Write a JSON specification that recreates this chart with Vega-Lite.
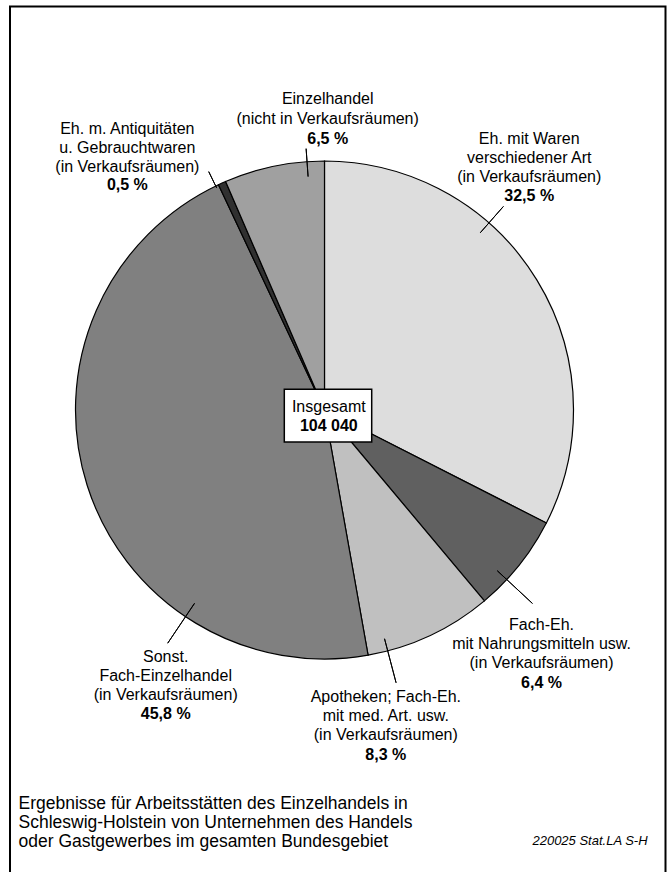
{
  "$schema": "https://vega.github.io/schema/vega-lite/v6.json",
  "width": 613,
  "height": 760,
  "autosize": "none",
  "padding": {"left": 18, "top": 30, "right": 37, "bottom": 82},
  "background": "white",
  "config": {"view": {"stroke": null}, "font": "Liberation Sans"},
  "title": {
    "text": "220025 Stat.LA S-H",
    "orient": "bottom",
    "anchor": "end",
    "frame": "group",
    "font": "Liberation Sans",
    "fontSize": 13,
    "fontStyle": "italic",
    "fontWeight": "normal",
    "color": "black",
    "offset": -56,
    "dx": 16.6
  },
  "data": {
    "values": [
      {"order": 1, "name": "Eh. mit Waren|verschiedener Art|(in Verkaufsräumen)", "share": 32.5},
      {"order": 2, "name": "Fach-Eh.|mit Nahrungsmitteln usw.|(in Verkaufsräumen)", "share": 6.4},
      {"order": 3, "name": "Apotheken; Fach-Eh.|mit med. Art. usw.|(in Verkaufsräumen)", "share": 8.3},
      {"order": 4, "name": "Sonst.|Fach-Einzelhandel|(in Verkaufsräumen)", "share": 45.8},
      {"order": 5, "name": "Eh. m. Antiquitäten|u. Gebrauchtwaren|(in Verkaufsräumen)", "share": 0.5},
      {"order": 6, "name": "Einzelhandel|(nicht in Verkaufsräumen)", "share": 6.5}
    ]
  },
  "layer": [
    {
      "data": {"values": [{}]},
      "mark": {"type": "rect", "filled": false, "stroke": "black", "strokeWidth": 2},
      "encoding": {
        "x": {"value": -8},
        "x2": {"value": 647.5},
        "y": {"value": -23.5},
        "y2": {"value": 860}
      }
    },
    {
      "transform": [
        {"stack": "share", "groupby": [], "sort": [{"field": "order", "order": "ascending"}], "as": ["s0", "s1"]},
        {"calculate": "(datum.s0 + datum.s1) / 2", "as": "mid"},
        {"calculate": "replace(format(datum.share, '.1f'), '.', ',') + ' %'", "as": "pctText"}
      ],
      "layer": [
        {
          "mark": {"type": "arc", "outerRadius": 249, "stroke": "black", "strokeWidth": 1.2},
          "encoding": {
            "theta": {"field": "s0", "type": "quantitative", "scale": {"domain": [0, 100]}},
            "theta2": {"field": "s1"},
            "color": {
              "field": "order",
              "type": "ordinal",
              "scale": {"range": ["#dddddd", "#606060", "#c0c0c0", "#808080", "#303030", "#a0a0a0"]},
              "legend": null
            }
          }
        },
        {
          "transform": [{"filter": "datum.order === 1"}],
          "encoding": {"theta": {"field": "mid", "type": "quantitative", "scale": {"domain": [0, 100]}}},
          "layer": [
            {"mark": {"type": "arc", "radius": 271, "radius2": 236, "thetaOffset": -0.3, "theta2Offset": -0.3, "filled": false, "stroke": "black", "strokeWidth": 1}, "encoding": {"theta2": {"field": "mid"}}},
            {"mark": {"type": "text", "radius": 339.4, "thetaOffset": -0.3735, "lineBreak": "|", "fontSize": 16, "lineHeight": 19, "baseline": "middle", "align": "center", "color": "black"}, "encoding": {"text": {"field": "name", "type": "nominal"}}},
            {"mark": {"type": "text", "radius": 339.4, "thetaOffset": -0.3735, "dy": 57, "fontSize": 16, "baseline": "middle", "align": "center", "color": "black", "fontWeight": "bold"}, "encoding": {"text": {"field": "pctText", "type": "nominal"}}}
          ]
        },
        {
          "transform": [{"filter": "datum.order === 2"}],
          "encoding": {"theta": {"field": "mid", "type": "quantitative", "scale": {"domain": [0, 100]}}},
          "layer": [
            {"mark": {"type": "arc", "radius": 284, "radius2": 236, "thetaOffset": 0.077, "theta2Offset": 0.077, "filled": false, "stroke": "black", "strokeWidth": 1}, "encoding": {"theta2": {"field": "mid"}}},
            {"mark": {"type": "text", "radius": 305.5, "thetaOffset": 0.1084, "lineBreak": "|", "fontSize": 16, "lineHeight": 19, "baseline": "middle", "align": "center", "color": "black"}, "encoding": {"text": {"field": "name", "type": "nominal"}}},
            {"mark": {"type": "text", "radius": 305.5, "thetaOffset": 0.1084, "dy": 58, "fontSize": 16, "baseline": "middle", "align": "center", "color": "black", "fontWeight": "bold"}, "encoding": {"text": {"field": "pctText", "type": "nominal"}}}
          ]
        },
        {
          "transform": [{"filter": "datum.order === 3"}],
          "encoding": {"theta": {"field": "mid", "type": "quantitative", "scale": {"domain": [0, 100]}}},
          "layer": [
            {"mark": {"type": "arc", "radius": 282, "radius2": 236.5, "thetaOffset": 0.18, "theta2Offset": 0.18, "filled": false, "stroke": "black", "strokeWidth": 1}, "encoding": {"theta2": {"field": "mid"}}},
            {"mark": {"type": "text", "radius": 293.2, "thetaOffset": 0.226, "lineBreak": "|", "fontSize": 16, "lineHeight": 19, "baseline": "middle", "align": "center", "color": "black"}, "encoding": {"text": {"field": "name", "type": "nominal"}}},
            {"mark": {"type": "text", "radius": 293.2, "thetaOffset": 0.226, "dy": 58, "fontSize": 16, "baseline": "middle", "align": "center", "color": "black", "fontWeight": "bold"}, "encoding": {"text": {"field": "pctText", "type": "nominal"}}}
          ]
        },
        {
          "transform": [{"filter": "datum.order === 4"}],
          "encoding": {"theta": {"field": "mid", "type": "quantitative", "scale": {"domain": [0, 100]}}},
          "layer": [
            {"mark": {"type": "arc", "radius": 281, "radius2": 233, "thetaOffset": -0.671, "theta2Offset": -0.671, "filled": false, "stroke": "black", "strokeWidth": 1}, "encoding": {"theta2": {"field": "mid"}}},
            {"mark": {"type": "text", "radius": 293.4, "thetaOffset": -0.691, "lineBreak": "|", "fontSize": 16, "lineHeight": 19, "baseline": "middle", "align": "center", "color": "black"}, "encoding": {"text": {"field": "name", "type": "nominal"}}},
            {"mark": {"type": "text", "radius": 293.4, "thetaOffset": -0.691, "dy": 57, "fontSize": 16, "baseline": "middle", "align": "center", "color": "black", "fontWeight": "bold"}, "encoding": {"text": {"field": "pctText", "type": "nominal"}}}
          ]
        },
        {
          "transform": [{"filter": "datum.order === 5"}],
          "encoding": {"theta": {"field": "mid", "type": "quantitative", "scale": {"domain": [0, 100]}}},
          "layer": [
            {"mark": {"type": "arc", "radius": 265, "radius2": 247, "thetaOffset": -0.028, "theta2Offset": -0.028, "filled": false, "stroke": "black", "strokeWidth": 1}, "encoding": {"theta2": {"field": "mid"}}},
            {"mark": {"type": "text", "radius": 343.0, "thetaOffset": -0.1882, "lineBreak": "|", "fontSize": 16, "lineHeight": 19, "baseline": "middle", "align": "center", "color": "black"}, "encoding": {"text": {"field": "name", "type": "nominal"}}},
            {"mark": {"type": "text", "radius": 343.0, "thetaOffset": -0.1882, "dy": 56, "fontSize": 16, "baseline": "middle", "align": "center", "color": "black", "fontWeight": "bold"}, "encoding": {"text": {"field": "pctText", "type": "nominal"}}}
          ]
        },
        {
          "transform": [{"filter": "datum.order === 6"}],
          "encoding": {"theta": {"field": "mid", "type": "quantitative", "scale": {"domain": [0, 100]}}},
          "layer": [
            {"mark": {"type": "arc", "radius": 262, "radius2": 234, "thetaOffset": 0.134, "theta2Offset": 0.134, "filled": false, "stroke": "black", "strokeWidth": 1}, "encoding": {"theta2": {"field": "mid"}}},
            {"mark": {"type": "text", "radius": 311.0, "thetaOffset": 0.2145, "lineBreak": "|", "fontSize": 16, "lineHeight": 19.5, "baseline": "middle", "align": "center", "color": "black"}, "encoding": {"text": {"field": "name", "type": "nominal"}}},
            {"mark": {"type": "text", "radius": 311.0, "thetaOffset": 0.2145, "dy": 39.5, "fontSize": 16, "baseline": "middle", "align": "center", "color": "black", "fontWeight": "bold"}, "encoding": {"text": {"field": "pctText", "type": "nominal"}}}
          ]
        }
      ]
    },
    {
      "data": {"values": [{"label": "Insgesamt", "total": 104040}]},
      "transform": [
        {"calculate": "replace(format(datum.total, ','), ',', ' ')", "as": "totalText"}
      ],
      "encoding": {
        "x": {
          "datum": 0,
          "type": "quantitative",
          "scale": {"domain": [-1, 1]},
          "axis": {
            "title": [
              "Ergebnisse für Arbeitsstätten des Einzelhandels in",
              "Schleswig-Holstein von Unternehmen des Handels",
              "oder Gastgewerbes im gesamten Bundesgebiet"
            ],
            "domain": false,
            "ticks": false,
            "labels": false,
            "grid": false,
            "titleAnchor": "start",
            "titleAlign": "left",
            "titleBaseline": "top",
            "titleFont": "Liberation Sans",
            "titleFontSize": 17.5,
            "titleFontWeight": "normal",
            "titleColor": "black",
            "titleLineHeight": 19.2,
            "titlePadding": 4
          }
        },
        "y": {"datum": 0, "type": "quantitative", "scale": {"domain": [-1, 1]}, "axis": null}
      },
      "layer": [
        {
          "mark": {
            "type": "point",
            "shape": "M-1,-0.603H1V0.603H-1Z",
            "size": 7639,
            "filled": true,
            "fill": "white",
            "stroke": "black",
            "strokeWidth": 1.5,
            "opacity": 1,
            "xOffset": 3.5,
            "yOffset": 5.7
          }
        },
        {
          "mark": {"type": "text", "fontSize": 16, "baseline": "middle", "align": "center", "color": "black", "dx": 4.3, "dy": -2.7},
          "encoding": {"text": {"field": "label", "type": "nominal"}}
        },
        {
          "mark": {"type": "text", "fontSize": 16, "baseline": "middle", "align": "center", "color": "black", "fontWeight": "bold", "dx": 4.3, "dy": 15.7},
          "encoding": {"text": {"field": "totalText", "type": "nominal"}}
        }
      ]
    }
  ]
}
